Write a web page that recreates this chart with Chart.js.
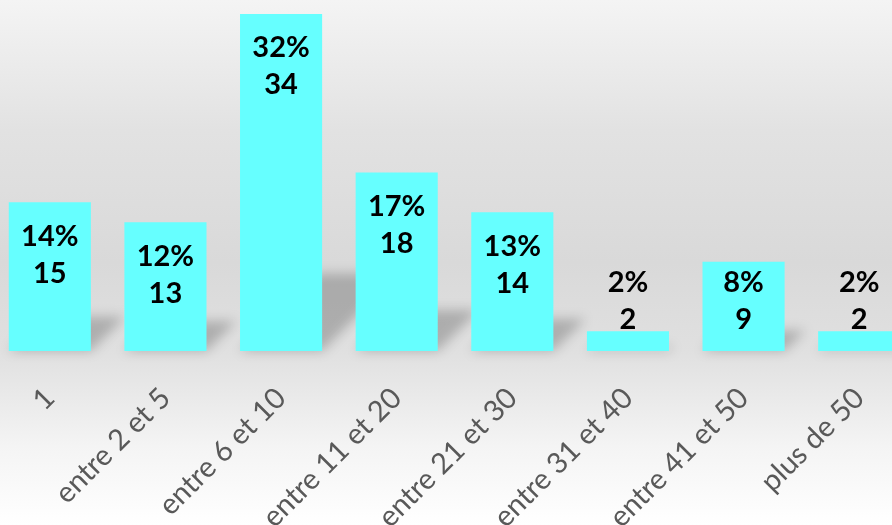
<!DOCTYPE html>
<html>
<head>
<meta charset="utf-8">
<script src="https://cdn.jsdelivr.net/npm/chart.js@4/dist/chart.umd.min.js"></script>
<style>
  html, body { margin: 0; padding: 0; overflow: hidden; }
  body {
    width: 892px; height: 525px; position: relative;
    background: linear-gradient(to bottom, #f4f4f4 0%, #e2e2e2 25%, #d9d9d9 50%, #e0e0e0 67%, #f4f4f4 85%, #ffffff 100%);
  }
  #wrap { position: absolute; left: -8px; top: 0; width: 925px; height: 525px; }
</style>
</head>
<body>
<div id="wrap"><canvas id="chart"></canvas></div>
<script>
const categories = ["1", "entre 2 et 5", "entre 6 et 10", "entre 11 et 20", "entre 21 et 30", "entre 31 et 40", "entre 41 et 50", "plus de 50"];
const counts = [15, 13, 34, 18, 14, 2, 9, 2];
const total = counts.reduce((a, b) => a + b, 0);

// soft perspective shadow behind each bar
const barShadow = {
  id: "barShadow",
  beforeDatasetsDraw(chart) {
    const ctx = chart.ctx;
    const meta = chart.getDatasetMeta(0);
    ctx.save();
    ctx.filter = "blur(6px)";
    ctx.fillStyle = "rgba(0,0,0,0.22)";
    meta.data.forEach((bar) => {
      const h = bar.base - bar.y;
      const hs = h * 0.23;
      const dx = hs * 1.0;
      const x0 = bar.x - bar.width / 2;
      const x1 = bar.x + bar.width / 2;
      ctx.beginPath();
      ctx.moveTo(x0, bar.base);
      ctx.lineTo(x1, bar.base);
      ctx.lineTo(x1 + dx, bar.base - hs);
      ctx.lineTo(x0 + dx, bar.base - hs);
      ctx.closePath();
      ctx.fill();
    });
    ctx.restore();
  },
};

// percentage + count labels
const valueLabels = {
  id: "valueLabels",
  afterDatasetsDraw(chart) {
    const ctx = chart.ctx;
    const meta = chart.getDatasetMeta(0);
    ctx.save();
    ctx.font = "bold 29px Lato";
    ctx.fillStyle = "#000";
    ctx.textAlign = "center";
    ctx.textBaseline = "middle";
    meta.data.forEach((bar, i) => {
      const v = counts[i];
      const pct = Math.round((v / total) * 100) + "%";
      const y1 = Math.min(bar.y + 34, bar.base - 68);
      ctx.fillText(pct, bar.x, y1);
      ctx.fillText(String(v), bar.x, y1 + 37);
    });
    ctx.restore();
  },
};

new Chart(document.getElementById("chart"), {
  type: "bar",
  data: {
    labels: categories,
    datasets: [
      {
        data: counts,
        backgroundColor: "#66ffff",
        borderWidth: 0,
        categoryPercentage: 0.71,
        barPercentage: 1,
      },
    ],
  },
  options: {
    responsive: true,
    maintainAspectRatio: false,
    animation: false,
    layout: { padding: { top: 14, left: 0, right: 0, bottom: 0 } },
    scales: {
      x: {
        grid: { display: false, drawTicks: false },
        border: { display: false },
        ticks: {
          autoSkip: false,
          minRotation: 45,
          maxRotation: 45,
          padding: 30,
          color: "#595959",
          font: { family: "Lato", size: 29 },
        },
        afterFit: (scale) => {
          scale.height = 174;
        },
      },
      y: {
        display: false,
        min: 0,
        max: 34,
      },
    },
    plugins: {
      legend: { display: false },
      tooltip: { enabled: false },
    },
  },
  plugins: [barShadow, valueLabels],
});
</script>
</body>
</html>
